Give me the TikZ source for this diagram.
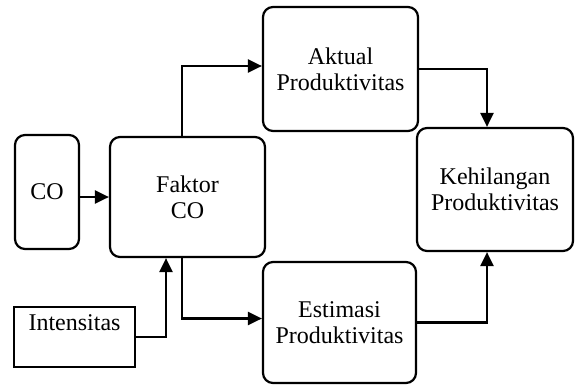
\documentclass[tikz,border=0pt]{standalone}
\usepackage{fontspec}
\setmainfont{Liberation Serif}
\usetikzlibrary{arrows.meta}
\begin{document}
\begin{tikzpicture}[x=1pt,y=-1pt,
  box/.style={draw,line width=2.2pt,rounded corners=10pt,align=center,inner sep=0pt,
    font=\fontsize{24}{26}\selectfont},
  arr/.style={line width=2.2pt,-{Triangle[length=14pt,width=13pt]}}]
\useasboundingbox (0,0) rectangle (580,386);
\node[box,minimum width=64pt,minimum height=114pt] (co) at (47,192) {CO};
\node[box,minimum width=155pt,minimum height=120pt] (fak) at (187.5,197) {Faktor\\CO};
\node[box,rounded corners=0pt,minimum width=121pt,minimum height=60pt,text height=17pt,text depth=30pt] (int) at (74.5,337) {Intensitas};
\node[box,minimum width=155pt,minimum height=124pt] (akt) at (340.5,69) {Aktual\\Produktivitas};
\node[box,minimum width=153pt,minimum height=121pt] (est) at (339.5,322.5) {Estimasi\\Produktivitas};
\node[box,minimum width=156pt,minimum height=123pt] (keh) at (495,189.5) {Kehilangan\\Produktivitas};
\draw[arr] (fak.west -| co.east) -- (fak.west);
\draw[arr] (int.east) -| ([xshift=-21.5pt]fak.south);
\draw[arr] ([xshift=-5.5pt]fak.south) |- ([yshift=4pt]est.west);
\draw[arr] ([xshift=-5.5pt]fak.north) |- ([yshift=3pt]akt.west);
\draw[arr] (akt.east) -| ([xshift=-8pt]keh.north);
\draw[arr] (est.east) -| ([xshift=-8pt]keh.south);
\end{tikzpicture}
\end{document}
